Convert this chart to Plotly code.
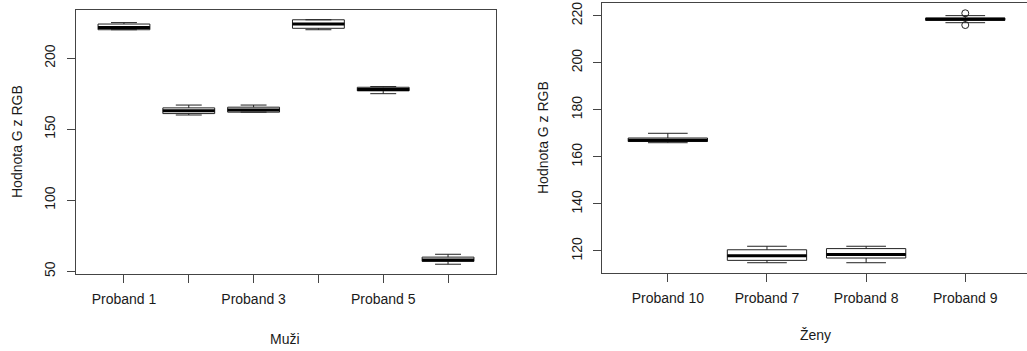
import plotly.graph_objects as go

# ---- data ----
men = ["Proband 1", "Proband 2", "Proband 3", "Proband 4", "Proband 5", "Proband 6"]
men_min = [220, 160, 162, 220, 175, 55]
men_q1 = [220, 161, 162, 221, 177, 57]
men_med = [221.5, 163, 163.5, 224, 178, 58]
men_q3 = [224, 165, 165.5, 227, 179.5, 60]
men_max = [225, 167, 167, 227, 180, 62]

women = ["Proband 10", "Proband 7", "Proband 8", "Proband 9"]
women_min = [166, 115, 115, 217]
women_q1 = [166.5, 116, 117, 218]
women_med = [167, 118, 118.5, 218.5]
women_q3 = [168, 120.5, 121, 219]
women_max = [170, 122, 122, 220]
women_outlier_cat = ["Proband 9", "Proband 9"]
women_outlier_val = [221, 216]

y_title = "Hodnota G z RGB"
x_title_men = "Muži"
x_title_women = "Ženy"

W, H = 1027, 351
FONT = "Liberation Sans, Arial, Helvetica, sans-serif"
TXT = "#1a1a1a"
LINE = "#444444"


def px_x(p):
    return p / W


def px_y(p):
    return 1 - p / H


fig = go.Figure()


def add_panel(cats, mn, q1, med, q3, mx, xa, ya):
    pos = list(range(1, len(cats) + 1))
    fig.add_trace(go.Box(
        x=pos, q1=q1, median=med, q3=q3, lowerfence=mn, upperfence=mx,
        width=0.8, whiskerwidth=0.5, fillcolor="white",
        line=dict(color="#222222", width=1), boxpoints=False,
        xaxis=xa, yaxis=ya, showlegend=False, hoverinfo="skip"))
    # thick median line
    fig.add_trace(go.Box(
        x=pos, q1=med, median=med, q3=med, lowerfence=med, upperfence=med,
        width=0.8, whiskerwidth=0, fillcolor="black",
        line=dict(color="black", width=3), boxpoints=False,
        xaxis=xa, yaxis=ya, showlegend=False, hoverinfo="skip"))
    return pos


def ext(lo, hi):
    r = hi - lo
    return [lo - 0.04 * r, hi + 0.04 * r]


pos_m = add_panel(men, men_min, men_q1, men_med, men_q3, men_max, "x", "y")
pos_w = add_panel(women, women_min, women_q1, women_med, women_q3, women_max, "x2", "y2")

fig.add_trace(go.Scatter(
    x=[women.index(c) + 1 for c in women_outlier_cat], y=women_outlier_val,
    mode="markers", marker=dict(symbol="circle-open", size=7, color="#222222",
                                line=dict(width=1)),
    xaxis="x2", yaxis="y2", showlegend=False, hoverinfo="skip"))

men_labels = [c if i % 2 == 0 else "" for i, c in enumerate(men)]

axis_common = dict(showgrid=False, zeroline=False, showline=True, linecolor=LINE,
                   linewidth=1, ticks="outside", ticklen=8, tickcolor=LINE,
                   automargin=False,
                   tickfont=dict(family=FONT, size=14, color=TXT))

m_lo, m_hi = min(men_min), max(men_max)
w_lo = min(women_min + women_outlier_val)
w_hi = max(women_max + women_outlier_val)

fig.update_layout(
    width=W, height=H,
    margin=dict(l=0, r=0, t=0, b=0),
    paper_bgcolor="white", plot_bgcolor="white",
    boxmode="overlay",
    font=dict(family=FONT, size=14, color=TXT),
    xaxis=dict(axis_common, domain=[px_x(76), px_x(496)],
               range=[1 - 0.74, len(men) + 0.74],
               tickmode="array", tickvals=pos_m, ticktext=men_labels,
               mirror=True, anchor="y", ticklabelstandoff=4),
    yaxis=dict(axis_common, domain=[px_y(274), px_y(10)], range=ext(m_lo, m_hi),
               tickmode="linear", tick0=0, dtick=50, tickangle=-90,
               mirror=True, anchor="x", ticklabelstandoff=6),
    xaxis2=dict(axis_common, domain=[px_x(602.4), 1.0],
                range=[1 - 0.66, len(women) + (1027 - 965.3) / 99.1],
                tickmode="array", tickvals=pos_w, ticktext=women,
                mirror=True, anchor="y2", ticklabelstandoff=4),
    yaxis2=dict(axis_common, domain=[px_y(272.7), px_y(3.3)], range=ext(w_lo, w_hi),
                tickmode="linear", tick0=0, dtick=20, tickangle=-90,
                mirror=False, anchor="x2", ticklabelstandoff=6),
    annotations=[
        dict(text=y_title, x=px_x(17), y=px_y(142), xref="paper", yref="paper",
             textangle=-90, showarrow=False, font=dict(size=14, family=FONT, color=TXT),
             xanchor="center", yanchor="middle"),
        dict(text=y_title, x=px_x(543), y=px_y(138), xref="paper", yref="paper",
             textangle=-90, showarrow=False, font=dict(size=14, family=FONT, color=TXT),
             xanchor="center", yanchor="middle"),
        dict(text=x_title_men, x=px_x(285), y=px_y(339), xref="paper", yref="paper",
             showarrow=False, font=dict(size=14, family=FONT, color=TXT),
             xanchor="center", yanchor="middle"),
        dict(text=x_title_women, x=px_x(815), y=px_y(335), xref="paper", yref="paper",
             showarrow=False, font=dict(size=14, family=FONT, color=TXT),
             xanchor="center", yanchor="middle"),
    ],
)

fig.write_html("out.html",
               config={"displayModeBar": False},
               post_script="document.body.style.margin='0px';"
                           "document.documentElement.style.overflow='hidden';")
